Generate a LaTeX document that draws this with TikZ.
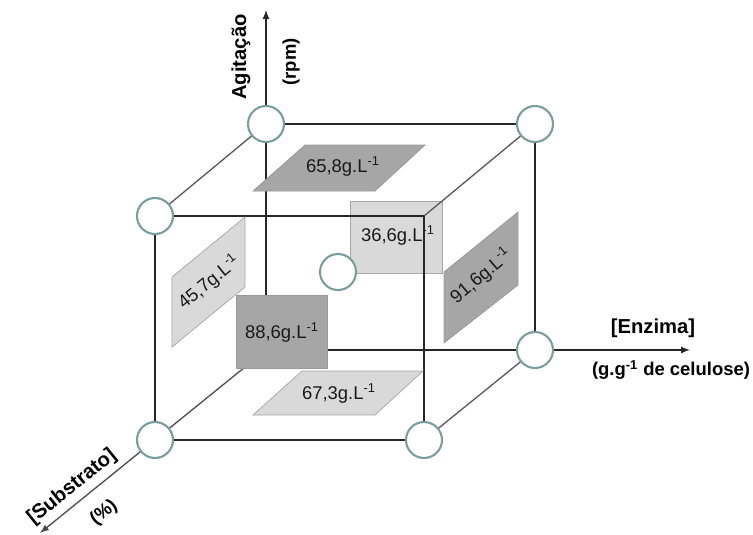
\documentclass[tikz,border=0pt]{standalone}
\usepackage{fontspec}
\setmainfont{Liberation Sans}
\usetikzlibrary{arrows,positioning,calc}
\definecolor{ringcol}{RGB}{122,158,158}
\definecolor{darkgr}{RGB}{166,166,166}
\definecolor{lightgr}{RGB}{217,217,217}
\tikzset{
  vertex/.style={circle,draw=ringcol,fill=white,line width=1.2pt,minimum size=0.72cm,inner sep=0pt},
  edge/.style={draw=black!85,line width=0.75pt},
  diag/.style={draw=black!65,line width=0.75pt},
  axis/.style={draw=black!85,line width=0.75pt,->,>=latex},
  darkface/.style={fill=darkgr,draw=black!40,line width=0.4pt},
  lightface/.style={fill=lightgr,draw=black!35,line width=0.4pt},
  val/.style={font=\fontsize{10.5}{12}\selectfont,text=black!90,inner sep=1pt},
  axlab/.style={font=\fontsize{11.5}{13}\selectfont\bfseries,inner sep=1pt},
  axsub/.style={font=\fontsize{10.5}{12}\selectfont\bfseries,inner sep=1pt}
}
\begin{document}
\begin{tikzpicture}[x=0.02cm,y=-0.02cm]
  \useasboundingbox (0,0) rectangle (753,534);
  % corners of the cube
  \coordinate (O) at (266,350);
  \coordinate (btl) at (266,124);
  \coordinate (btr) at (535,124);
  \coordinate (bbr) at (535,350);
  \coordinate (ftl) at (155,216);
  \coordinate (ftr) at (424,216);
  \coordinate (fbl) at (155,440);
  \coordinate (fbr) at (424,440);
  \coordinate (mid) at (338,272);
  % axis tips
  \coordinate (agit) at (266,10);
  \coordinate (enz) at (690,350);
  \coordinate (subs) at (40,533);

  % back face, lies under the edges
  \node[lightface,rectangle,minimum width=1.84cm,minimum height=1.44cm] (back) at (396,237) {};
  \node[val] at (398,235) {36,6g.L\textsuperscript{-1}};

  \draw[edge] (ftl) -- (ftr) -- (fbr) -- (fbl) -- cycle;
  \draw[edge] (btl) -- (btr) -- (bbr);
  \draw[diag] (btl) -- (ftl) (btr) -- (ftr) (bbr) -- (fbr);
  \draw[axis] (O) -- (agit);
  \draw[axis] (O) -- (enz);
  \draw[axis,draw=black!70] (O) -- (subs);

  % faces
  \draw[darkface] (305,145) -- (425,145) -- (375,191) -- (253,191) -- cycle;
  \node[val] (top) at (343,166) {65,8g.L\textsuperscript{-1}};
  \draw[lightface] (302,371) -- (423,371) -- (375,415) -- (253,415) -- cycle;
  \node[val] (bot) at (339,393) {67,3g.L\textsuperscript{-1}};
  \draw[lightface] (172,277) -- (245,217) -- (245,287) -- (172,347) -- cycle;
  \node[val,rotate=39] (left) at (209,282) {45,7g.L\textsuperscript{-1}};
  \draw[darkface] (444,272) -- (518,212) -- (518,285) -- (444,343) -- cycle;
  \node[val,rotate=40] (right) at (481,276) {91,6g.L\textsuperscript{-1}};
  \node[darkface,rectangle,minimum width=1.82cm,minimum height=1.46cm] (front) at (281.5,331.5) {};
  \node[val] at (282,332) {88,6g.L\textsuperscript{-1}};

  % runs
  \foreach \v in {btl,btr,bbr,ftl,fbl,fbr,mid}
    \node[vertex] (c-\v) at (\v) {};

  % axis names
  \node[axlab,rotate=90] (agitlab) at (241,57) {Agitação};
  \node[axsub,rotate=90] (rpm) at (291,62) {(rpm)};
  \node[axlab] (enzlab) at (653,328) {[Enzima]};
  \node[axsub] (enzunit) at (671,370) {(g.g\textsuperscript{-1} de celulose)};
  \node[axlab,rotate=39] (subslab) at (72,487) {[Substrato]};
  \node[axsub,rotate=39] (pct) at (104,513) {(\%)};
\end{tikzpicture}
\end{document}
